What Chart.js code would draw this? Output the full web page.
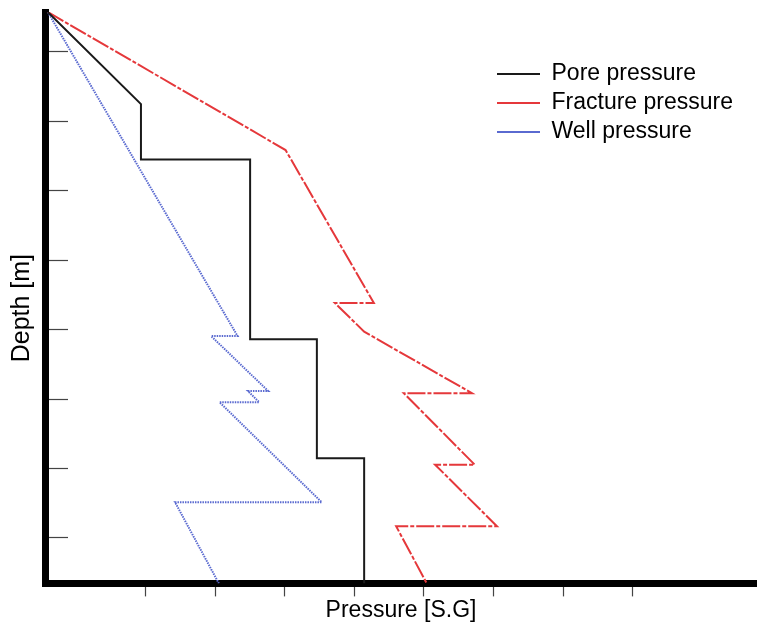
<!DOCTYPE html>
<html>
<head>
<meta charset="utf-8">
<title>Pressure vs depth</title>
<script src="https://cdn.jsdelivr.net/npm/chart.js@4/dist/chart.umd.min.js"></script>
<style>
    body { margin: 0; background: #fff; }
    #wrap { width: 757px; height: 626px; }
</style>
</head>
<body>
<div id="wrap"><canvas id="c" width="757" height="626"></canvas></div>
<script>
    // values (pressure in S.G, depth in m)
    var poreX = [0.859, 0.993, 0.993, 1.150, 1.150, 1.246, 1.246, 1.314, 1.314];
    var poreDepth = [212, 875, 1275, 1275, 2568, 2568, 3425, 3425, 4327];

    var fracX = [0.859, 1.201, 1.328, 1.272, 1.314, 1.469, 1.371, 1.473, 1.416, 1.505, 1.360, 1.404];
    var fracDepth = [212, 1206, 2308, 2308, 2514, 2957, 2957, 3472, 3472, 3915, 3915, 4327];

    var wellX = [0.859, 1.132, 1.094, 1.176, 1.147, 1.163, 1.106, 1.253, 1.042, 1.105];
    var wellDepth = [212, 2546, 2546, 2942, 2942, 3022, 3022, 3742, 3742, 4327];

    var xTicks = [1.0, 1.1, 1.2, 1.3, 1.4, 1.5, 1.6, 1.7];
    var yTicks = [500, 1000, 1500, 2000, 2500, 3000, 3500, 4000];

    function toPoints(xs, ys) {
        var pts = [];
        for (var i = 0; i < xs.length; i++) {
            pts.push({x: xs[i], y: ys[i]});
        }
        return pts;
    }

    function fixedTicks(values) {
        return function (scale) {
            scale.ticks = values.map(function (v) { return {value: v}; });
        };
    }

    // legend sits inside the plot, top right
    var legendMover = {
        id: 'legendMover',
        afterLayout: function (chart) {
            var lg = chart.legend;
            lg.left = 491;
            lg.top = 56.5;
            lg.width = 250;
            lg.height = 100;
            lg.right = lg.left + lg.width;
            lg.bottom = lg.top + lg.height;
        }
    };

    Chart.defaults.font.family = '"Liberation Sans", Arial, sans-serif';
    Chart.defaults.color = '#000';

    var ctx = document.getElementById('c');
    new Chart(ctx, {
        type: 'line',
        data: {
            datasets: [{
                label: 'Pore pressure',
                data: toPoints(poreX, poreDepth),
                borderColor: '#1a1a1a',
                borderWidth: 2,
                pointRadius: 0
            }, {
                label: 'Fracture pressure',
                data: toPoints(fracX, fracDepth),
                borderColor: '#e5383b',
                borderWidth: 2,
                borderDash: [18, 2, 4, 2],
                pointRadius: 0
            }, {
                label: 'Well pressure',
                data: toPoints(wellX, wellDepth),
                borderColor: '#5a6ad0',
                borderWidth: 2,
                borderDash: [1.5, 1],
                pointRadius: 0
            }]
        },
        options: {
            responsive: false,
            animation: false,
            layout: {padding: {top: 12, left: 0, right: 0, bottom: 0}},
            elements: {line: {tension: 0}},
            plugins: {
                tooltip: {enabled: false},
                legend: {
                    position: 'chartArea',
                    align: 'start',
                    labels: {
                        usePointStyle: true,
                        pointStyle: 'line',
                        pointStyleWidth: 43,
                        padding: 6,
                        font: {size: 23}
                    }
                }
            },
            scales: {
                x: {
                    type: 'linear',
                    position: 'bottom',
                    min: 0.855,
                    max: 1.879,
                    afterBuildTicks: fixedTicks(xTicks),
                    grid: {drawOnChartArea: false, drawTicks: true, tickLength: 13, tickColor: '#444', tickWidth: 1.2},
                    border: {display: true, color: '#000', width: 7},
                    ticks: {display: false},
                    title: {display: true, text: 'Pressure [S.G]', font: {size: 23}, padding: {top: 0, bottom: 2}}
                },
                y: {
                    type: 'linear',
                    reverse: true,
                    min: 212,
                    max: 4327,
                    afterBuildTicks: fixedTicks(yTicks),
                    grid: {drawOnChartArea: false, drawTicks: true, tickLength: -23, tickColor: '#444', tickWidth: 1.2},
                    border: {display: true, color: '#000', width: 7},
                    ticks: {display: false},
                    // trailing spaces push the label a little lower, as in the picture
                    title: {display: true, text: 'Depth [m]\u00a0\u00a0\u00a0', font: {size: 25}, padding: {top: 7, bottom: 31}}
                }
            }
        },
        plugins: [legendMover]
    });
</script>
</body>
</html>
